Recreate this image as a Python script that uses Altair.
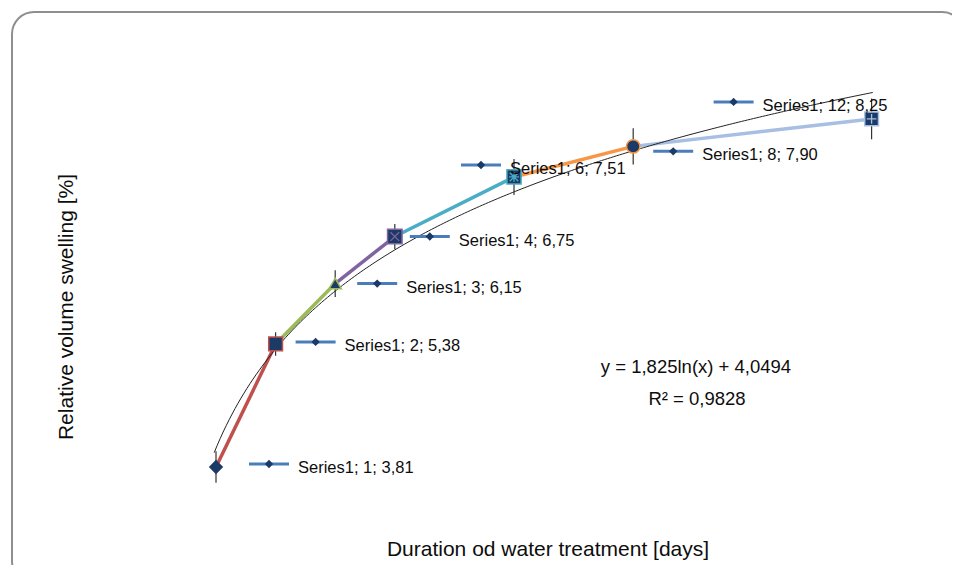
import altair as alt
import pandas as pd

# ---- data ----
days = [1, 2, 3, 4, 6, 8, 12]
swelling = [3.81, 5.38, 6.15, 6.75, 7.51, 7.90, 8.25]
errors = [0.20, 0.15, 0.17, 0.16, 0.23, 0.23, 0.26]
series_name = "Series1"
trend_a = 1.825
trend_b = 4.0494
equation_text = "y = 1,825ln(x) + 4,0494"
r2_text = "R² = 0,9828"
x_title = "Duration od water treatment [days]"
y_title = "Relative volume swelling [%]"

# ---- styles ----
navy = "#1B3A66"
key_blue = "#4A7EBB"
text_color = "#0d0d0d"
segment_colors = ["#C0504D", "#9BBB59", "#8064A2", "#4BACC6", "#F79646", "#A7BFE3"]
marker_shapes = ["diamond", "square", "triangle-up", "square", "square", "circle", "square"]
marker_strokes = [navy, "#C0504D", "#9BBB59", "#8064A2", "#4BACC6", "#F79646", "#A7BFE3"]
marker_sizes = [150, 190, 150, 210, 200, 180, 190]
PLUS = "M-0.7,0L0.7,0M0,-0.7L0,0.7"
XMARK = "M-0.6,-0.6L0.6,0.6M-0.6,0.6L0.6,-0.6"
overlay_glyphs = [None, None, None, XMARK, PLUS + XMARK, None, PLUS]
# label key offsets (pixels from the point)
key_offsets = [(53, -3), (40, -2), (42, 0), (35, 0), (-33, -12), (40, 5), (-138, -17)]

W, H = 944, 557
xs = alt.Scale(domain=[-2.49, 13.349], nice=False, zero=False)
ys = alt.Scale(domain=[2.56, 9.665], nice=False, zero=False)

def fmt(v):
    return f"{v:.2f}".replace(".", ",")

df = pd.DataFrame({
    "day": days,
    "val": swelling,
    "lo": [v - e for v, e in zip(swelling, errors)],
    "hi": [v + e for v, e in zip(swelling, errors)],
    "label": [f"{series_name}; {d}; {fmt(v)}" for d, v in zip(days, swelling)],
})

seg_rows = []
for i in range(len(days) - 1):
    seg_rows.append({"seg": i, "day": days[i], "val": swelling[i]})
    seg_rows.append({"seg": i, "day": days[i + 1], "val": swelling[i + 1]})
seg_df = pd.DataFrame(seg_rows)

X = lambda f: alt.X(f, scale=xs, axis=None)
Y = lambda f: alt.Y(f, scale=ys, axis=None)

one = pd.DataFrame({"a": [0]})

border = alt.Chart(one).mark_rect(
    cornerRadius=22, fill="white", stroke="#8f8f8f", strokeWidth=2
).encode(x=alt.value(4), x2=alt.value(956), y=alt.value(4), y2=alt.value(575))

segments = alt.Chart(seg_df).mark_line(strokeWidth=3.5).encode(
    x=X("day:Q"), y=Y("val:Q"), detail="seg:N",
    color=alt.Color("seg:N", scale=alt.Scale(domain=list(range(6)), range=segment_colors), legend=None),
)

trend = alt.Chart(alt.sequence(0.97, 12.05, 0.05, as_="t")).transform_calculate(
    v=f"{trend_a}*log(datum.t)+{trend_b}"
).mark_line(color="#222222", strokeWidth=1).encode(x=X("t:Q"), y=Y("v:Q"))

errbars = alt.Chart(df).mark_rule(color="#333333", strokeWidth=1.2).encode(
    x=X("day:Q"), y=Y("lo:Q"), y2="hi:Q"
)

layers = [border, segments, trend, errbars]

for i, d in enumerate(days):
    base = alt.Chart(df).transform_filter(alt.datum.day == d)
    layers.append(base.mark_point(
        shape=marker_shapes[i], filled=True, fill=navy, stroke=marker_strokes[i],
        strokeWidth=1.5, size=marker_sizes[i], opacity=1
    ).encode(x=X("day:Q"), y=Y("val:Q")))
    if overlay_glyphs[i]:
        layers.append(base.mark_point(
            shape=overlay_glyphs[i], filled=False, stroke=marker_strokes[i],
            strokeWidth=1.3, size=marker_sizes[i], opacity=1
        ).encode(x=X("day:Q"), y=Y("val:Q")))
    kx, ky = key_offsets[i]
    layers.append(base.mark_point(
        shape="M-1,0L1,0", filled=False, stroke=key_blue, strokeWidth=3,
        size=1600, xOffset=kx, yOffset=ky, opacity=1
    ).encode(x=X("day:Q"), y=Y("val:Q")))
    layers.append(base.mark_point(
        shape="diamond", filled=True, fill=navy, size=70, xOffset=kx, yOffset=ky, opacity=1
    ).encode(x=X("day:Q"), y=Y("val:Q")))
    layers.append(base.mark_text(
        align="left", baseline="middle", dx=kx + 29, dy=ky + 4,
        font="Liberation Sans", fontSize=16.5, color=text_color
    ).encode(x=X("day:Q"), y=Y("val:Q"), text="label:N"))

ann = pd.DataFrame({"eq": [equation_text], "r2": [r2_text], "xt": [x_title], "yt": [y_title]})
layers.append(alt.Chart(ann).mark_text(font="Liberation Sans", fontSize=18.5, color=text_color,
                                       align="center", baseline="middle").encode(
    x=alt.value(688), y=alt.value(359), text="eq:N"))
layers.append(alt.Chart(ann).mark_text(font="Liberation Sans", fontSize=18.5, color=text_color,
                                       align="center", baseline="middle").encode(
    x=alt.value(689), y=alt.value(391), text="r2:N"))
layers.append(alt.Chart(ann).mark_text(font="Liberation Sans", fontSize=21, color=text_color,
                                       align="center", baseline="middle").encode(
    x=alt.value(540), y=alt.value(542), text="xt:N"))
layers.append(alt.Chart(ann).mark_text(font="Liberation Sans", fontSize=21, color=text_color,
                                       align="center", baseline="middle", angle=270).encode(
    x=alt.value(59), y=alt.value(299), text="yt:N"))

chart = alt.layer(*layers).properties(
    width=W, height=H, padding=0, autosize=alt.AutoSizeParams(type="none")
).configure_view(stroke=None)

chart.save("out.html", embed_options={"renderer": "svg", "actions": False})
